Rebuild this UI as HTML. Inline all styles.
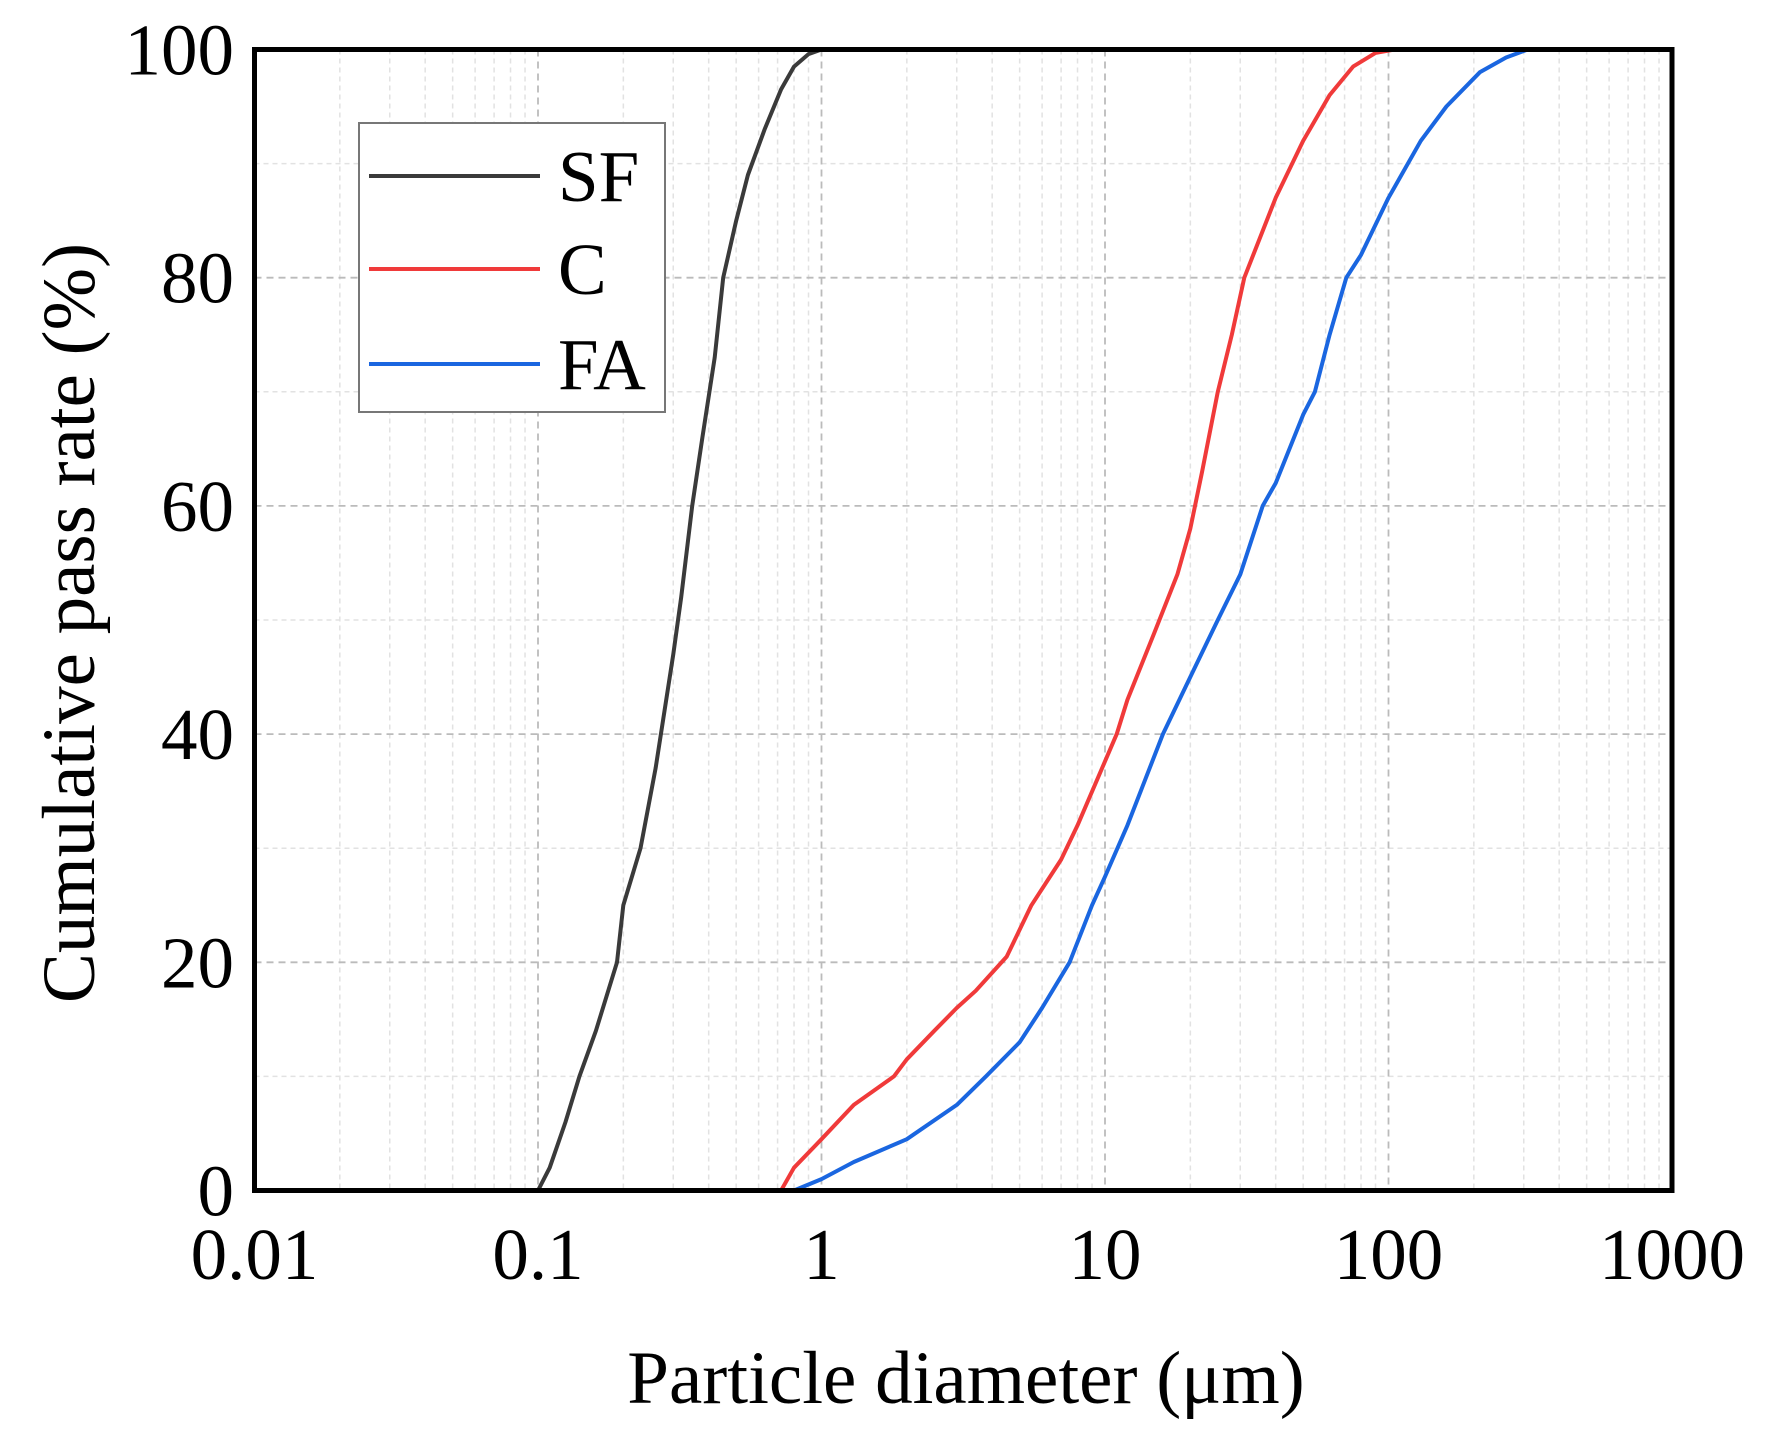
<!DOCTYPE html>
<html><head><meta charset="utf-8"><style>
body{margin:0;background:#fff}
svg{display:block;font-family:"Liberation Serif",serif}
</style></head><body>
<svg id="chart" width="1772" height="1435" viewBox="0 0 1772 1435">
<g id="grid"></g>
<g id="series"></g>
<rect x="254.5" y="49.5" width="1417.5" height="1141" fill="none" stroke="#000" stroke-width="5"/>
<g id="ticks" font-size="73"></g>
<text x="966" y="1403" font-size="75" text-anchor="middle">Particle diameter (μm)</text>
<text transform="translate(94,623) rotate(-90)" font-size="75" text-anchor="middle">Cumulative pass rate (%)</text>
<g>
<rect x="359" y="123" width="306" height="289" fill="#fff" stroke="#777" stroke-width="2"/>
<line x1="369" y1="176" x2="540" y2="176" stroke="#3a3a3a" stroke-width="4"/>
<text x="558" y="201" font-size="73">SF</text>
<line x1="369" y1="269" x2="540" y2="269" stroke="#f03a3a" stroke-width="4"/>
<text x="558" y="294" font-size="73">C</text>
<line x1="369" y1="364" x2="540" y2="364" stroke="#1a66e0" stroke-width="4"/>
<text x="558" y="389" font-size="73">FA</text>
</g>
</svg>
<script>
const sfD=[0.1,0.11,0.125,0.14,0.16,0.19,0.2,0.23,0.26,0.3,0.32,0.35,0.38,0.42,0.45,0.5,0.55,0.63,0.72,0.8,0.9,1.0];
const sfP=[0,2,6,10,14,20,25,30,37,47,52,60,66,73,80,85,89,93,96.5,98.5,99.6,100];
const cD=[0.72,0.8,1.0,1.3,1.8,2,2.5,3,3.5,4.5,5.5,7,8,11,12,15,18,20,22,25,28,31,40,50,62,75,90,105];
const cP=[0,2,4.5,7.5,10,11.5,14,16,17.5,20.5,25,29,32,40,43,49,54,58,63,70,75,80,87,92,96,98.5,99.7,100];
const faD=[0.8,1.0,1.3,2,3,3.8,5,6,7.5,9,10,12,16,20,25,30,36,40,50,55,62,71,80,100,130,160,210,260,310];
const faP=[0,1,2.5,4.5,7.5,10,13,16,20,25,27.5,32,40,45,50,54,60,62,68,70,75,80,82,87,92,95,98,99.3,100];
const xTicks=["0.01","0.1","1","10","100","1000"];
const yTicks=["0","20","40","60","80","100"];
const L=254.5,R=1672,T=49.5,B=1190.5;
const xs=d=>L+(Math.log10(d)+2)/5*(R-L);
const ys=p=>B-p/100*(B-T);
const NS="http://www.w3.org/2000/svg";
const grid=document.getElementById('grid'),ser=document.getElementById('series'),tk=document.getElementById('ticks');
function ln(x1,y1,x2,y2,c,w,da){const l=document.createElementNS(NS,'line');l.setAttribute('x1',x1);l.setAttribute('y1',y1);l.setAttribute('x2',x2);l.setAttribute('y2',y2);l.setAttribute('stroke',c);l.setAttribute('stroke-width',w);l.setAttribute('stroke-dasharray',da);return l;}
for(let e=-2;e<3;e++){for(let m=2;m<10;m++){const x=xs(m*Math.pow(10,e));const l=ln(x,T,x,B,'#e2e2e2',1.5,'5,4');

grid.appendChild(l);}}
for(let p=10;p<100;p+=20){const y=ys(p);const l=ln(L,y,R,y,'#e2e2e2',1.5,'5,4');

grid.appendChild(l);}
xTicks.forEach((t,i)=>{const x=xs(+t);if(i>0&&i<5){const l=ln(x,T,x,B,'#bbb',1.8,'7,5');

grid.appendChild(l);}
const s=document.createElementNS(NS,'text');s.setAttribute('x',x);s.setAttribute('y',1279);s.setAttribute('text-anchor','middle');s.textContent=t;

tk.appendChild(s);});
yTicks.forEach((t,i)=>{const y=ys(+t);if(i>0&&i<5){const l=ln(L,y,R,y,'#bbb',1.8,'7,5');

grid.appendChild(l);}
const s=document.createElementNS(NS,'text');s.setAttribute('x',234);s.setAttribute('y',y+25);s.setAttribute('text-anchor','end');s.textContent=t;

tk.appendChild(s);});
function line(D,P,c,name){const p=document.createElementNS(NS,'polyline');p.setAttribute('points',D.map((d,i)=>xs(d).toFixed(1)+','+ys(P[i]).toFixed(1)).join(' '));p.setAttribute('fill','none');p.setAttribute('stroke',c);p.setAttribute('stroke-width',4);p.setAttribute('stroke-linejoin','round');

ser.appendChild(p);}
line(sfD,sfP,'#3a3a3a','sf-line');
line(cD,cP,'#f03a3a','c-line');
line(faD,faP,'#1a66e0','fa-line');
</script>
</body></html>
